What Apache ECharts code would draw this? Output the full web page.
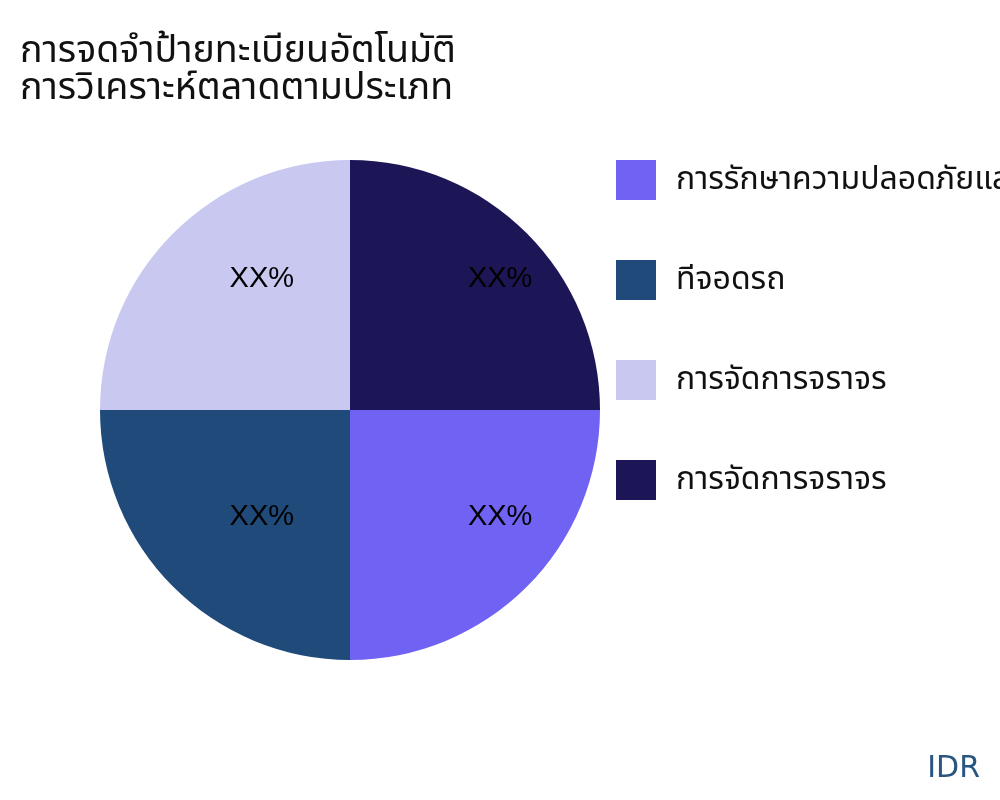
<!DOCTYPE html>
<html>
<head>
<meta charset="utf-8">
<script src="https://cdn.jsdelivr.net/npm/echarts@6/dist/echarts.min.js"></script>
<style>html,body{margin:0;padding:0;background:#fff;}#chart{width:1000px;height:800px;}</style>
</head>
<body>
<div id="chart"></div>
<script>
const categories = ['การรักษาความปลอดภัยและการบังคับใช้กฎหมาย', 'ทีจอดรถ', 'การจัดการจราจร', 'การจัดการจราจร\u200b'];
const values = [25, 25, 25, 25];
const sliceLabels = ['XX%', 'XX%', 'XX%', 'XX%'];
const colors = ['#7062F2', '#1F4A79', '#C8C8F0', '#1C1656'];
const titleLines = ['การจดจำป้ายทะเบียนอัตโนมัติ', 'การวิเคราะห์ตลาดตามประเภท'];
const sourceText = 'IDR';

const chart = echarts.init(document.getElementById('chart'));
const data = categories.map((c, i) => ({ name: c, value: values[i], itemStyle: { color: colors[i] } }));
const labelData = categories.map((c, i) => ({ name: c, value: values[i], label: { formatter: sliceLabels[i] } }));
const thaiFont = "'Noto Sans', 'Noto Sans Thai', sans-serif";

chart.setOption({
  animation: false,
  title: {
    text: titleLines.join('\n'),
    left: 15, top: 28, padding: 5,
    textStyle: { fontFamily: thaiFont, fontSize: 37.6, fontWeight: 'normal', color: '#111', lineHeight: 37 }
  },
  legend: {
    orient: 'vertical',
    left: 616, top: 160, padding: 0,
    itemWidth: 40, itemHeight: 40, itemGap: 60,
    icon: 'rect',
    data: categories,
    formatter: n => n.replace(/\u200b/g, ''),
    textStyle: { fontFamily: thaiFont, fontSize: 32, color: '#111', padding: [0, 0, 0, 15], lineHeight: 40 },
    selectedMode: false
  },
  graphic: [{
    type: 'text', right: 20, bottom: 16,
    style: { text: sourceText, fontFamily: "'DejaVu Sans', sans-serif", fontSize: 30, fill: '#2A5580' }
  }],
  series: [{
    type: 'pie',
    center: [350, 410], radius: [0, 250],
    startAngle: 0, clockwise: true,
    label: { show: false }, labelLine: { show: false },
    emphasis: { disabled: true }, silent: true,
    data: data
  }, {
    type: 'pie',
    center: [350, 410], radius: [81, 250],
    startAngle: 0, clockwise: true,
    itemStyle: { color: 'transparent' },
    label: { show: true, position: 'inside', fontFamily: "'Liberation Sans', Arial, sans-serif", fontSize: 29, color: '#000', offset: [31, -12] },
    labelLine: { show: false },
    emphasis: { disabled: true }, silent: true,
    data: labelData
  }]
});
</script>
</body>
</html>
